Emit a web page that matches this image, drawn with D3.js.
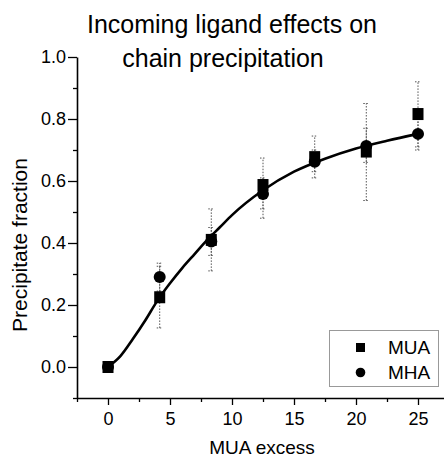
<!DOCTYPE html>
<html><head><meta charset="utf-8">
<script src="https://cdn.jsdelivr.net/npm/d3@7"></script>
<style>body{margin:0;background:#fff}svg{display:block}text{font-family:"Liberation Sans",Arial,sans-serif;fill:#000}</style>
</head><body><svg id="c" width="444" height="460"></svg>
<script>
const xValues = [0, 4.17, 8.33, 12.5, 16.67, 20.83, 25];
const muaValues = [0.0, 0.225, 0.41, 0.587, 0.677, 0.695, 0.816];
const muaErrLow = [0.0, 0.126, 0.31, 0.48, 0.61, 0.537, 0.71];
const muaErrHigh = [0.0, 0.325, 0.51, 0.674, 0.745, 0.85, 0.92];
const mhaValues = [0.0, 0.29, 0.405, 0.558, 0.662, 0.713, 0.752];
const mhaErrLow = [0.0, 0.245, 0.36, 0.51, 0.63, 0.66, 0.70];
const mhaErrHigh = [0.0, 0.335, 0.45, 0.61, 0.70, 0.77, 0.80];
const fitX = [0, 1, 2, 3, 4, 5, 6, 7, 8, 9, 10, 12.5, 15, 17.5, 20, 22.5, 25];
const fitY = [0, 0.035, 0.09, 0.15, 0.215, 0.27, 0.32, 0.365, 0.41, 0.45, 0.49, 0.57, 0.63, 0.672, 0.705, 0.73, 0.752];
const xTicks = [0, 5, 10, 15, 20, 25];
const xMinor = [-2.5, 2.5, 7.5, 12.5, 17.5, 22.5, 27.5];
const yTicks = [0.0, 0.2, 0.4, 0.6, 0.8, 1.0];
const yMinor = [-0.1, 0.1, 0.3, 0.5, 0.7, 0.9];
const titleLines = ["Incoming ligand effects on", "chain precipitation"];
const seriesNames = ["MUA", "MHA"];

const svg = d3.select("#c");
const x = d3.scaleLinear().domain([-2.5, 27.5]).range([77, 449]);
const y = d3.scaleLinear().domain([-0.1, 1.0]).range([398, 57]);

// axes
const gx = svg.append("g").attr("transform", `translate(0,${y(-0.1)})`)
  .call(d3.axisBottom(x).tickValues(xTicks).tickFormat(d3.format("d")).tickSize(7).tickPadding(7).tickSizeOuter(0));
svg.append("g").attr("transform", `translate(0,${y(-0.1)})`)
  .call(d3.axisBottom(x).tickValues(xMinor).tickFormat("").tickSize(4).tickSizeOuter(0))
  .select(".domain").remove();
const gy = svg.append("g").attr("transform", `translate(${x(-2.5)},0)`)
  .call(d3.axisLeft(y).tickValues(yTicks).tickFormat(d3.format(".1f")).tickSize(9).tickPadding(2).tickSizeOuter(0));
svg.append("g").attr("transform", `translate(${x(-2.5)},0)`)
  .call(d3.axisLeft(y).tickValues(yMinor).tickFormat("").tickSize(4).tickSizeOuter(0))
  .select(".domain").remove();
svg.selectAll(".domain").attr("stroke", "#000").attr("stroke-width", 1.6);
svg.selectAll(".tick line").attr("stroke", "#000").attr("stroke-width", 1.3);
svg.selectAll(".tick text").attr("font-size", 18).style("font-family", '"Liberation Sans",Arial,sans-serif');

// error bars
function errBars(lo, hi) {
  const g = svg.append("g").attr("stroke", "#555").attr("stroke-width", 1).attr("stroke-dasharray", "1.5,1.5");
  xValues.forEach((xv, i) => {
    if (hi[i] === lo[i]) return;
    const cx = x(xv);
    g.append("line").attr("x1", cx).attr("x2", cx).attr("y1", y(lo[i])).attr("y2", y(hi[i]));
    g.append("line").attr("x1", cx - 3).attr("x2", cx + 3).attr("y1", y(lo[i])).attr("y2", y(lo[i]));
    g.append("line").attr("x1", cx - 3).attr("x2", cx + 3).attr("y1", y(hi[i])).attr("y2", y(hi[i]));
  });
}
errBars(muaErrLow, muaErrHigh);
errBars(mhaErrLow, mhaErrHigh);

// fit curve
const fit = fitX.map((d, i) => [d, fitY[i]]);
svg.append("path").datum(fit)
  .attr("d", d3.line().x(d => x(d[0])).y(d => y(d[1])).curve(d3.curveMonotoneX))
  .attr("fill", "none").attr("stroke", "#000").attr("stroke-width", 2.6);

// markers
svg.append("g").selectAll("rect").data(xValues).join("rect")
  .attr("x", (d) => x(d) - 5.5).attr("y", (d, i) => y(muaValues[i]) - 6)
  .attr("width", 11).attr("height", 12).attr("fill", "#000");
svg.append("g").selectAll("circle").data(xValues).join("circle")
  .attr("cx", d => x(d)).attr("cy", (d, i) => y(mhaValues[i])).attr("r", 6).attr("fill", "#000");

// title
const titleX = [232, 223];
svg.append("g").selectAll("text").data(titleLines).join("text")
  .attr("x", (d, i) => titleX[i]).attr("y", (d, i) => 33 + i * 34).attr("text-anchor", "middle")
  .attr("font-size", 25).text(d => d);

// axis labels
svg.append("text").attr("transform", `translate(27,245) rotate(-90)`).attr("text-anchor", "middle")
  .attr("font-size", 21).text("Precipitate fraction");
svg.append("text").attr("x", 262).attr("y", 454).attr("text-anchor", "middle")
  .attr("font-size", 19).text("MUA excess");

// legend
const lg = svg.append("g");
lg.append("rect").attr("x", 329.5).attr("y", 330.5).attr("width", 109).attr("height", 56)
  .attr("fill", "#fff").attr("stroke", "#333").attr("stroke-width", 1).attr("stroke-dasharray", "1,1");
lg.append("rect").attr("x", 356).attr("y", 343).attr("width", 9).attr("height", 9).attr("fill", "#000");
lg.append("circle").attr("cx", 360.5).attr("cy", 372.5).attr("r", 4.8).attr("fill", "#000");
lg.selectAll("text.l").data(seriesNames).join("text").attr("class", "l")
  .attr("x", 388).attr("y", (d, i) => 354 + i * 25).attr("font-size", 19).text(d => d);
</script></body></html>
